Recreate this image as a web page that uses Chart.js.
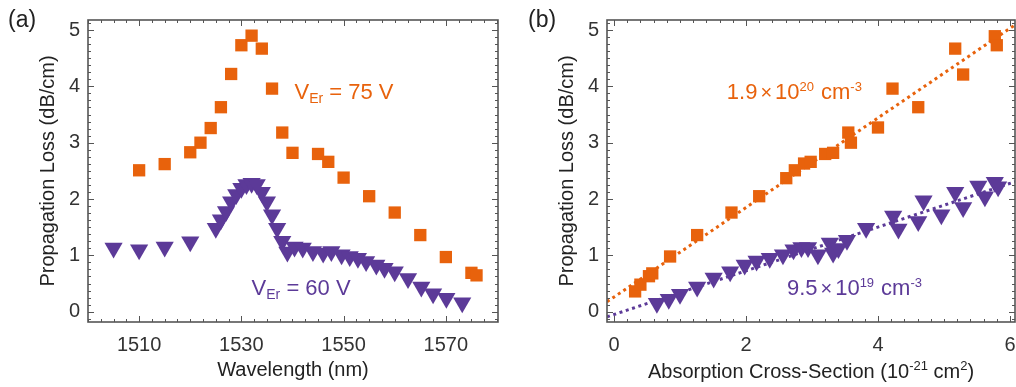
<!DOCTYPE html>
<html><head><meta charset="utf-8">
<script src="https://cdn.jsdelivr.net/npm/chart.js@4.4.1/dist/chart.umd.min.js"></script>
<style>
html,body{margin:0;padding:0;background:#fff;}
#wrap{position:relative;width:1016px;height:387px;overflow:hidden;background:#fff;}
#ca{position:absolute;left:0;top:0;}
#cb{position:absolute;left:500px;top:0;}
</style></head><body>
<div id="wrap"><canvas id="ca" width="500" height="387"></canvas><canvas id="cb" width="516" height="387"></canvas></div>
<script>
// ---------- data: panel (a) ----------
const wlOrange   = [1510,1515,1520,1522,1524,1526,1528,1530,1532,1534,1536,1538,1540,1545,1547,1550,1555,1560,1565,1570,1575,1576];
const lossOrange = [2.51,2.62,2.83,3.00,3.26,3.63,4.22,4.73,4.90,4.67,3.96,3.18,2.82,2.80,2.66,2.38,2.05,1.76,1.36,0.97,0.69,0.645];
const wlPurple   = [1505,1510,1515,1520,1525,1526,1527,1528,1529,1530,1531,1532,1533,1534,1535,1536,1537,1538,1539,1540.4,1542,1544,1546,1547.6,1549.6,1551.2,1552.8,1554.4,1556.4,1558,1560,1562.6,1565.2,1567.5,1570.1,1573.2];
const lossPurple = [1.13,1.10,1.15,1.24,1.48,1.63,1.78,1.95,2.08,2.19,2.26,2.28,2.26,2.12,1.95,1.72,1.48,1.25,1.06,1.15,1.13,1.07,1.04,1.07,1.01,0.98,0.95,0.89,0.83,0.77,0.71,0.59,0.44,0.32,0.24,0.16];
// ---------- data: panel (b) ----------
const csOrange    = [0.32,0.40,0.53,0.58,0.85,1.26,1.78,2.20,2.61,2.74,2.88,2.98,3.20,3.32,3.55,3.59,4.00,4.22,4.61,5.17,5.29,5.77,5.80];
const lossOrangeB = [0.36,0.48,0.63,0.68,0.98,1.36,1.76,2.05,2.37,2.51,2.63,2.66,2.80,2.82,3.18,3.00,3.27,3.96,3.63,4.67,4.21,4.89,4.73];
const csPurple    = [0.65,0.83,1.00,1.26,1.51,1.76,1.98,2.16,2.36,2.56,2.72,2.84,2.94,3.09,3.27,3.32,3.40,3.53,3.82,4.23,4.31,4.61,4.69,4.96,5.17,5.29,5.52,5.62,5.77,5.82];
const lossPurpleB = [0.15,0.22,0.31,0.44,0.60,0.71,0.83,0.90,0.95,1.01,1.10,1.14,1.14,1.01,1.22,1.04,1.12,1.27,1.48,1.70,1.47,1.60,1.97,1.72,2.12,1.85,2.23,2.04,2.30,2.22];
// linear fits (orange, purple)
const fitSlope     = [0.795, 0.388];
const fitIntercept = [0.26, -0.05];
// ---------- tick labels ----------
const wlTicks   = [1510,1530,1550,1570];
const csTicks   = [0,2,4,6];
const lossTicks = [0,1,2,3,4,5];

const FONT = "'Liberation Sans', Arial, Helvetica, sans-serif";
const ORANGE = '#e8620c', PURPLE = '#5c3a98';
const TXT = '#333333';
const Y_MIN = -0.183, Y_MAX = 5.178;
const WL_MIN = 1500, WL_MAX = 1580.2;
const CS_MIN = -0.106, CS_MAX = 6.076;

function drawRich(ctx, x, y, segs, color, align) {
  let total = 0;
  const ws = segs.map(s => { ctx.font = s[1] + 'px ' + FONT; const w = ctx.measureText(s[0]).width + (s[3] || 0); total += w; return w; });
  let cx = align === 'center' ? x - total / 2 : x;
  ctx.fillStyle = color; ctx.textBaseline = 'alphabetic'; ctx.textAlign = 'left';
  segs.forEach((s, i) => { ctx.font = s[1] + 'px ' + FONT; ctx.fillText(s[0], cx + (s[3] || 0), y + (s[2] || 0)); cx += ws[i]; });
}

const framePlugin = {
  id: 'frame',
  afterDraw(chart, args, o) {
    const {ctx, chartArea: a, scales: {x, y}} = chart;
    ctx.save();
    ctx.strokeStyle = '#555'; ctx.lineWidth = 1;
    const seg = (x1, y1, x2, y2) => { ctx.beginPath(); ctx.moveTo(x1, y1); ctx.lineTo(x2, y2); ctx.stroke(); };
    for (let v = o.xStart; v <= x.max + 1e-9; v += o.xMinor) {
      const px = Math.round(x.getPixelForValue(v)) + 0.5;
      if (px < a.left || px > a.right) continue;
      const major = o.xMajor.some(m => Math.abs(m - v) < 1e-6);
      const len = major ? 6 : 3;
      seg(px, a.bottom, px, a.bottom - len); seg(px, a.top, px, a.top + len);
    }
    for (let v = o.yStart; v <= y.max + 1e-9; v += o.yMinor) {
      const py = Math.round(y.getPixelForValue(v)) + 0.5;
      if (py < a.top || py > a.bottom) continue;
      const major = Math.abs(v - Math.round(v)) < 1e-6;
      const len = major ? 6 : 3;
      seg(a.left, py, a.left + len, py); seg(a.right, py, a.right - len, py);
    }
    ctx.lineWidth = 1.6; ctx.strokeStyle = '#555';
    ctx.strokeRect(a.left, a.top, a.right - a.left, a.bottom - a.top);
    ctx.fillStyle = '#222'; ctx.font = '23px ' + FONT; ctx.textAlign = 'left'; ctx.textBaseline = 'alphabetic';
    ctx.fillText(o.label, o.labelX, 27);
    (o.notes || []).forEach(n => drawRich(ctx, x.getPixelForValue(n.x), y.getPixelForValue(n.y), n.segs, n.color, 'left'));
    if (o.xTitle) drawRich(ctx, (a.left + a.right) / 2, 377.5, o.xTitle, '#222', 'center');
    ctx.restore();
  }
};

function lossAxis(w, titlePad) {
  return {
    type: 'linear', min: Y_MIN, max: Y_MAX,
    afterFit(s) { s.width = w; },
    afterBuildTicks(s) { s.ticks = lossTicks.map(v => ({value: v})); },
    grid: {display: false, drawTicks: false}, border: {display: false},
    ticks: {padding: 8, color: TXT, font: {family: FONT, size: 20}},
    title: {display: true, text: 'Propagation Loss (dB/cm)', color: '#222', font: {family: FONT, size: 20}, padding: {top: titlePad, bottom: 0}}
  };
}
const pts = (xs, ys) => xs.map((v, i) => ({x: v, y: ys[i]}));
const fitPts = (k, x0, x1) => [x0, x1].map(v => ({x: v, y: fitIntercept[k] + fitSlope[k] * v}));
const common = {responsive: false, animation: false, events: [], devicePixelRatio: 1};

new Chart(document.getElementById('ca'), {
  type: 'scatter',
  data: {datasets: [
    {data: pts(wlOrange, lossOrange), pointStyle: 'rect', pointRadius: 8.7, backgroundColor: ORANGE, borderWidth: 0},
    {data: pts(wlPurple, lossPurple), pointStyle: 'triangle', pointRotation: 180, pointRadius: 10.5, backgroundColor: PURPLE, borderWidth: 0}
  ]},
  options: Object.assign({}, common, {
    layout: {autoPadding: false, padding: {top: 20, right: 2, left: 0, bottom: 0}},
    plugins: {legend: {display: false}, tooltip: {enabled: false},
      frame: {xStart: 1500, xMinor: 2.5, xMajor: wlTicks, yStart: -0.125, yMinor: 0.125, label: '(a)', labelX: 8,
        notes: [
          {x: 1540.4, y: 3.78, color: ORANGE, segs: [['V', 22], ['Er', 14, 4], [' = 75 V', 22]]},
          {x: 1532.0, y: 0.30, color: PURPLE, segs: [['V', 22], ['Er', 14, 4], [' = 60 V', 22]]}
        ]}},
    scales: {
      x: {type: 'linear', min: WL_MIN, max: WL_MAX,
        afterFit(s) { s.height = 65; s.paddingLeft = 0; s.paddingRight = 0; },
        afterBuildTicks(s) { s.ticks = wlTicks.map(v => ({value: v})); },
        grid: {display: false, drawTicks: false}, border: {display: false},
        ticks: {padding: 11, color: TXT, font: {family: FONT, size: 20}, callback: v => String(v)},
        title: {display: true, text: 'Wavelength (nm)', color: '#222', font: {family: FONT, size: 20}, padding: {top: 0, bottom: 5}}},
      y: lossAxis(88, 36)
    }
  }),
  plugins: [framePlugin]
});

new Chart(document.getElementById('cb'), {
  type: 'scatter',
  data: {datasets: [
    {data: pts(csOrange, lossOrangeB), pointStyle: 'rect', pointRadius: 8.7, backgroundColor: ORANGE, borderWidth: 0, order: 0},
    {data: pts(csPurple, lossPurpleB), pointStyle: 'triangle', pointRotation: 180, pointRadius: 10.5, backgroundColor: PURPLE, borderWidth: 0, order: 0},
    {data: fitPts(0, CS_MIN, CS_MAX), showLine: true, pointRadius: 0, borderColor: ORANGE, borderWidth: 3, borderDash: [3, 3.6], order: 5},
    {data: fitPts(1, CS_MIN, CS_MAX), showLine: true, pointRadius: 0, borderColor: PURPLE, borderWidth: 3, borderDash: [3, 3.6], order: 5}
  ]},
  options: Object.assign({}, common, {
    layout: {autoPadding: false, padding: {top: 20, right: 1, left: 0, bottom: 0}},
    plugins: {legend: {display: false}, tooltip: {enabled: false},
      frame: {xStart: 0, xMinor: 0.2, xMajor: csTicks, yStart: -0.125, yMinor: 0.125, label: '(b)', labelX: 28,
        notes: [
          {x: 1.71, y: 3.78, color: ORANGE, segs: [['1.9', 22], ['\u00d7', 20, 0, 3], ['10', 22, 0, 3], ['20', 13, -8], ['cm', 22, 0, 7], ['-3', 13, -8]]},
          {x: 2.62, y: 0.30, color: PURPLE, segs: [['9.5', 22], ['\u00d7', 20, 0, 3], ['10', 22, 0, 3], ['19', 13, -8], ['cm', 22, 0, 7], ['-3', 13, -8]]}
        ],
        xTitle: [['Absorption Cross-Section (10', 20], ['-21', 13, -8], [' cm', 20], ['2', 13, -8], [')', 20]]}},
    scales: {
      x: {type: 'linear', min: CS_MIN, max: CS_MAX,
        afterFit(s) { s.height = 65; s.paddingLeft = 0; s.paddingRight = 0; },
        afterBuildTicks(s) { s.ticks = csTicks.map(v => ({value: v})); },
        grid: {display: false, drawTicks: false}, border: {display: false},
        ticks: {padding: 11, color: TXT, font: {family: FONT, size: 20}},
        title: {display: false}},
      y: lossAxis(107, 55.5)
    }
  }),
  plugins: [framePlugin]
});
</script>
</body></html>
